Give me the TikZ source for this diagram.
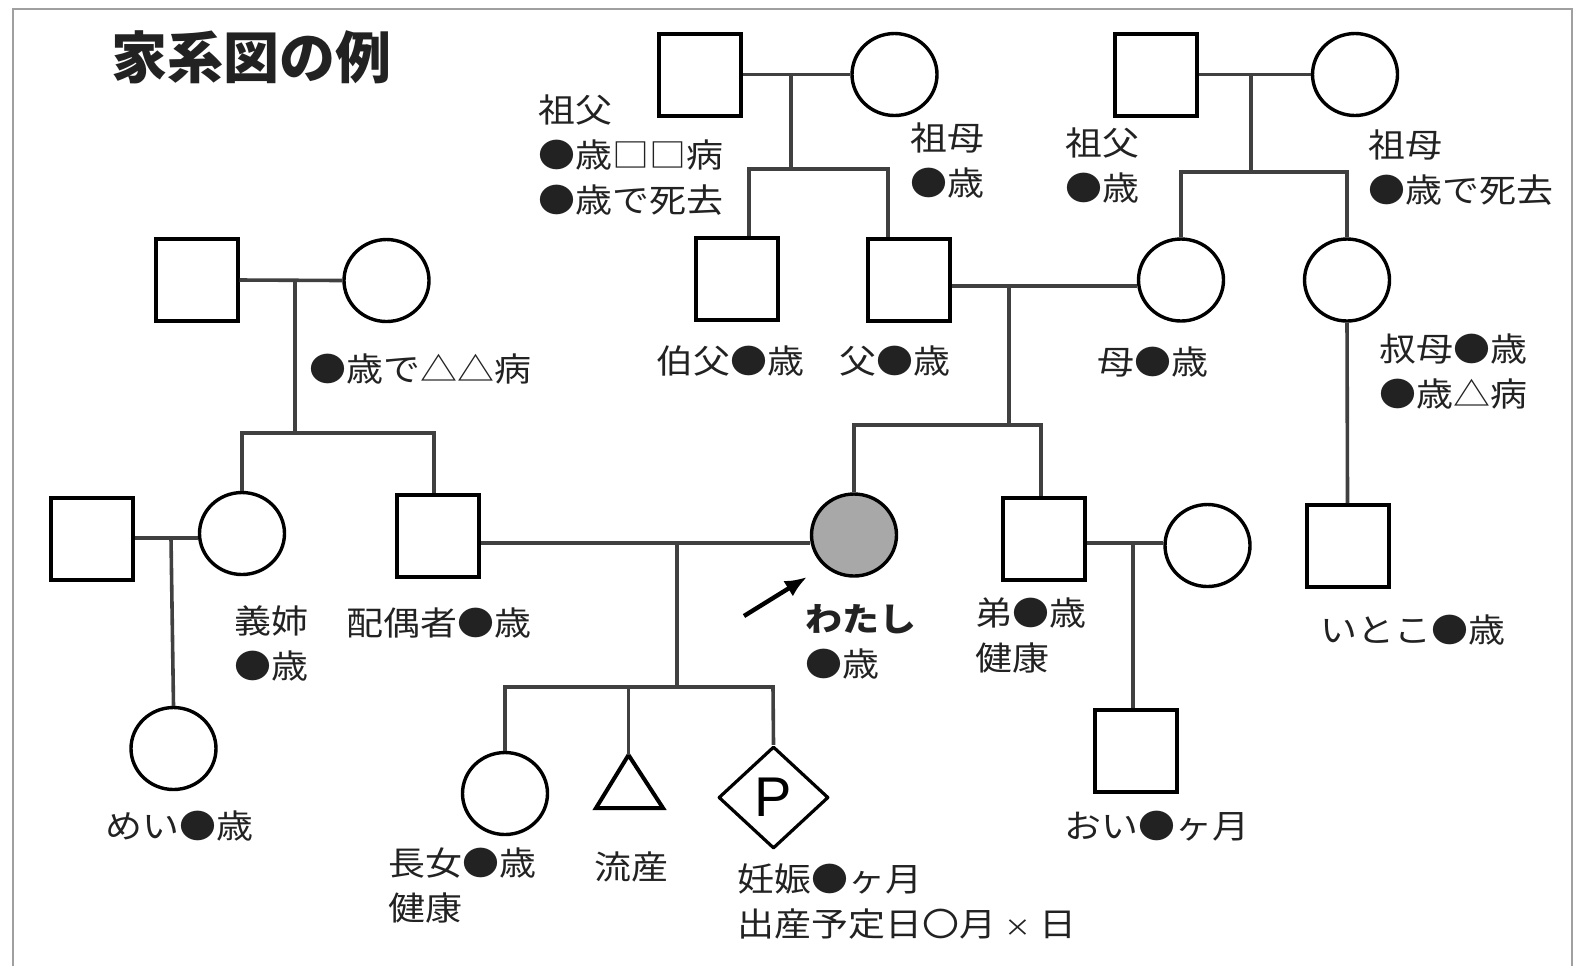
\documentclass[tikz,border=0pt]{standalone}
\usepackage{fontspec}
\setmainfont{Noto Sans CJK JP}[FakeStretch=1.12]
\newfontfamily\ttlfont{Noto Sans CJK JP}
\newfontfamily\psans{Liberation Sans}
\usetikzlibrary{shapes.geometric,arrows.meta}
\definecolor{ln}{HTML}{404040}
\definecolor{fr}{HTML}{A0A0A0}
\definecolor{mefill}{HTML}{A8A8A8}
\definecolor{txt}{HTML}{222222}
\begin{document}
\begin{tikzpicture}[x=0.5pt,y=-0.5pt,
  male/.style={draw=black,line width=2pt,rectangle,minimum width=41pt,minimum height=41pt,inner sep=0pt,fill=white},
  female/.style={draw=black,line width=1.7pt,ellipse,minimum width=42.5pt,minimum height=41pt,inner sep=0pt},
  conn/.style={draw=ln,line width=1.8pt},
  lbl/.style={anchor=west,inner sep=0pt,text=txt,font=\fontsize{16.5pt}{22.5pt}\selectfont,align=left},
]
\useasboundingbox (0,0) rectangle (1583,966);
\draw[fr,line width=1pt] (13,966) -- (13,9) -- (1572,9) -- (1572,966);

\node[inner sep=0pt,text=txt,font=\ttlfont\bfseries\fontsize{28pt}{30pt}\selectfont] (title) at (251,57) {家系図の例};

% people
\node[male] (pgf) at (700,74.5) {};
\node[female] (pgm) at (894.5,74.5) {};
\node[male] (mgf) at (1156,74.5) {};
\node[female] (mgm) at (1355,74.5) {};
\node[male] (uncle) at (737,278.5) {};
\node[male] (father) at (908.5,280) {};
\node[female] (mother) at (1181,280) {};
\node[female] (aunt) at (1347,280) {};
\node[male] (spf) at (196.5,280) {};
\node[female] (spm) at (386.5,280.5) {};
\node[male] (silh) at (91.5,538.5) {};
\node[female] (sil) at (242,533.5) {};
\node[male] (spouse) at (437.5,535.5) {};
\node[female,fill=mefill] (me) at (854,535) {};
\node[male] (bro) at (1044,538.5) {};
\node[female] (browife) at (1207.5,545.5) {};
\node[male] (cousin) at (1347.5,546) {};
\node[female] (niece) at (173.5,748.5) {};
\node[male] (nephew) at (1136,750.5) {};
\node[female] (daughter) at (505,793.5) {};
\node[diamond,draw=black,line width=1.6pt,line join=round,minimum width=55pt,minimum height=51pt,inner sep=0pt,font=\psans\fontsize{28pt}{28pt}\selectfont] (preg) at (773.5,797.5) {P};
\coordinate (tri) at (628.5,755);
\draw[black,line width=2pt] (tri) -- (663,808) -- (596,808) -- cycle;

% paternal grandparents
\draw[conn] (pgf.east) -- (pgm.west);
\coordinate (j1) at (791,75);
\coordinate (s1a) at (749,169);
\coordinate (s1b) at (888,169);
\draw[conn] (j1) -- (j1 |- s1a);
\draw[conn] (uncle.north -| s1a) -- (s1a) -- (s1b) -- (father.north -| s1b);

% maternal grandparents
\draw[conn] (mgf.east) -- (mgm.west);
\coordinate (j2) at (1251,75);
\coordinate (s2a) at (1181,172);
\coordinate (s2b) at (1347,172);
\draw[conn] (j2) -- (j2 |- s2a);
\draw[conn] (mother.north) -- (mother.north |- s2a) -- (aunt.north |- s2b) -- (aunt.north);

% spouse's parents
\draw[conn] (spf.east) -- (spm.west);
\coordinate (j3) at (295,281);
\coordinate (s3a) at (244,433);
\coordinate (s3b) at (434,433);
\draw[conn] (j3) -- (j3 |- s3a);
\draw[conn] (sil.north) -- (sil.north |- s3a) -- (s3b) -- (spouse.north -| s3b);

% parents
\coordinate (m4) at (1009,286);
\draw[conn] (father.east |- m4) -- (mother.west |- m4);
\coordinate (s4a) at (854,425);
\coordinate (s4b) at (1041,425);
\draw[conn] (m4) -- (m4 |- s4a);
\draw[conn] (me.north) -- (me.north |- s4a) -- (s4b) -- (bro.north -| s4b);

% spouse and me
\coordinate (m5) at (677,543);
\draw[conn] (spouse.east |- m5) -- (me.west |- m5);
\coordinate (s5a) at (505,687);
\coordinate (s5b) at (773,687);
\draw[conn] (m5) -- (m5 |- s5a);
\draw[conn] (daughter.north) -- (daughter.north |- s5a) -- (s5b) -- (preg.north);
\draw[ln,line width=1.1pt] (tri) -- (tri |- s5a);

% sister-in-law
\coordinate (m6) at (171,538);
\draw[conn] (silh.east |- m6) -- (sil.west |- m6);
\draw[conn] (m6) -- (niece.north);

% brother
\coordinate (m7) at (1133,543);
\draw[conn] (bro.east |- m7) -- (browife.west |- m7);
\draw[conn] (m7) -- (nephew.north -| m7);

% aunt
\draw[conn] (aunt.south) -- (cousin.north);

% arrow
\coordinate (arrA) at (744,616);
\coordinate (arrB) at (807,577);
\draw[black,line width=2.2pt,-{Latex[length=11pt,width=9pt]}] (arrA) -- (arrB);

% labels
\node[lbl] (lpgf) at (538,155) {祖父\\●歳□□病\\●歳で死去};
\node[lbl] (lpgm) at (910,160) {祖母\\●歳};
\node[lbl] (lmgf) at (1065,165.5) {祖父\\●歳};
\node[lbl] (lmgm) at (1368,167.5) {祖母\\●歳で死去};
\node[lbl] (lspm) at (309,369) {●歳で△△病};
\node[lbl] (luncle) at (656,361) {伯父●歳};
\node[lbl] (lfather) at (839,361) {父●歳};
\node[lbl] (lmother) at (1097,362) {母●歳};
\node[lbl] (launt) at (1379,371) {叔母●歳\\●歳△病};
\node[lbl] (lsil) at (234,643) {義姉\\●歳};
\node[lbl] (lspouse) at (346,623) {配偶者●歳};
\node[lbl] (lme) at (805,641.5) {\textbf{わたし}\\●歳};
\node[lbl] (lbro) at (975,635.5) {弟●歳\\健康};
\node[lbl] (lcousin) at (1320,630) {いとこ●歳};
\node[lbl] (lniece) at (105,826) {めい●歳};
\node[lbl] (lnephew) at (1064,826) {おい●ヶ月};
\node[lbl] (ldaughter) at (388,886) {長女●歳\\健康};
\node[lbl] (lmisc) at (594,867) {流産};
\node[lbl] (lpreg) at (737,901.5) {妊娠●ヶ月\\出産予定日〇月 {\fontsize{12pt}{12pt}\selectfont ×} 日};
\end{tikzpicture}
\end{document}
